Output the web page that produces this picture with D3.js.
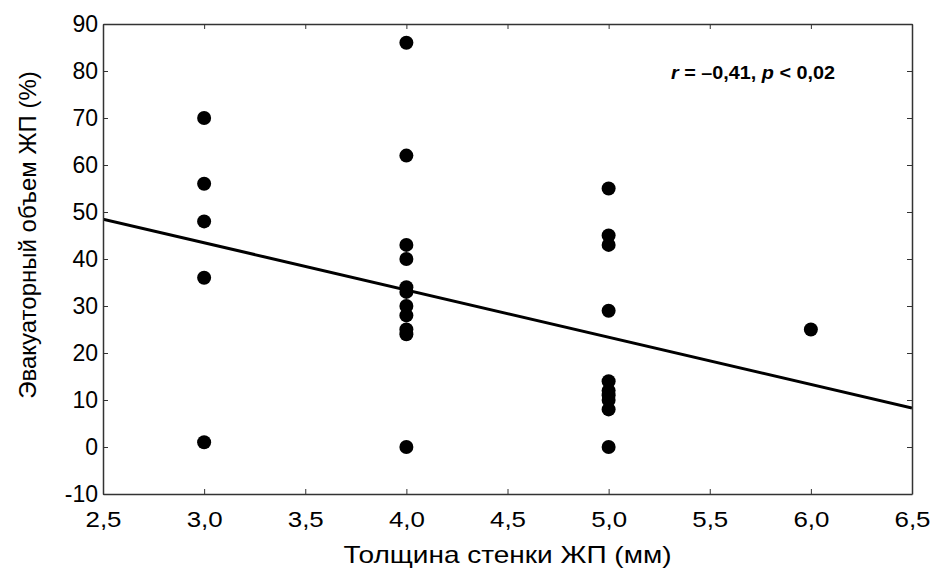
<!DOCTYPE html>
<html>
<head>
<meta charset="utf-8">
<script src="https://cdn.jsdelivr.net/npm/d3@7"></script>
<style>
  body { margin: 0; background: #fff; }
  svg text { font-family: "Liberation Sans", Arial, sans-serif; fill: #000; }
</style>
</head>
<body>
<div id="chart"></div>
<script>
// wall thickness (mm) and evacuated volume (%) per patient
var thickness = [3,3,3,3,3, 4,4,4,4,4,4,4,4,4,4,4, 5,5,5,5,5,5,5,5,5,5, 6];
var volume    = [70,56,48,36,1, 86,62,43,40,34,33,30,28,25,24,0, 55,45,43,29,14,12,11,10,8,0, 25];

var xTicks = [2.5,3,3.5,4,4.5,5,5.5,6,6.5];
var yTicks = [-10,0,10,20,30,40,50,60,70,80,90];

// regression line y = a + b*x
var fitA = 73.6, fitB = -10.05;

var width = 930, height = 573;
var margin = {top: 24, right: 18, bottom: 79, left: 103};

var svg = d3.select("#chart").append("svg")
    .attr("width", width)
    .attr("height", height);

var x = d3.scaleLinear().domain([2.5, 6.5]).range([margin.left, width - margin.right]);
var y = d3.scaleLinear().domain([-10, 90]).range([height - margin.bottom, margin.top]);

var fmtX = function(d){ return d3.format(".1f")(d).replace(".", ","); };
var fmtY = function(d){ return String(d); };   // plain hyphen for -10

svg.append("clipPath").attr("id", "plot")
  .append("rect")
    .attr("x", x(2.5)).attr("y", y(90))
    .attr("width", x(6.5) - x(2.5)).attr("height", y(-10) - y(90));

// regression line
svg.append("line")
    .attr("clip-path", "url(#plot)")
    .attr("x1", x(2.5)).attr("y1", y(fitA + fitB * 2.5))
    .attr("x2", x(6.5)).attr("y2", y(fitA + fitB * 6.5))
    .attr("stroke", "#000")
    .attr("stroke-width", 3);

// dots
svg.append("g")
  .selectAll("circle")
  .data(thickness)
  .enter()
  .append("circle")
    .attr("cx", function(d){ return x(d); })
    .attr("cy", function(d, i){ return y(volume[i]); })
    .attr("rx", 7)
    .attr("r", 7)
    .attr("fill", "#000");

// axes, ticks inside on all four sides
var tickLen = 5;
var axisStyle = function(g){
    g.select(".domain").attr("stroke", "#333").attr("stroke-width", 1.5);
    g.selectAll(".tick line").attr("stroke", "#333");
};

var xAxis = svg.append("g")
    .attr("transform", "translate(0," + y(-10) + ")")
    .call(d3.axisBottom(x).tickValues(xTicks).tickFormat(fmtX).tickSizeInner(-tickLen).tickSizeOuter(0).tickPadding(17))
    .call(axisStyle);
xAxis.selectAll("text")
    .attr("font-size", 22)
    .attr("font-family", "Liberation Sans")
    .attr("textLength", 36)
    .attr("lengthAdjust", "spacingAndGlyphs")
    .attr("text-anchor", "start")
    .attr("x", -18);

svg.append("g")
    .attr("transform", "translate(0," + y(90) + ")")
    .call(d3.axisTop(x).tickValues(xTicks).tickFormat("").tickSizeInner(-tickLen).tickSizeOuter(0))
    .call(axisStyle);

svg.append("g")
    .attr("transform", "translate(" + x(2.5) + ",0)")
    .call(d3.axisLeft(y).tickValues(yTicks).tickFormat(fmtY).tickSizeInner(-tickLen).tickSizeOuter(0).tickPadding(5))
    .call(axisStyle)
    .selectAll("text").attr("font-size", 23).attr("font-family", "Liberation Sans");

svg.append("g")
    .attr("transform", "translate(" + x(6.5) + ",0)")
    .call(d3.axisRight(y).tickValues(yTicks).tickFormat("").tickSizeInner(-tickLen).tickSizeOuter(0))
    .call(axisStyle);

// axis titles
svg.append("text")
    .attr("x", (x(2.5) + x(6.5)) / 2 - 164)
    .attr("y", 563)
    .attr("font-size", 24)
    .attr("textLength", 328)
    .attr("lengthAdjust", "spacingAndGlyphs")
    .text("Толщина стенки ЖП (мм)");

svg.append("text")
    .attr("transform", "translate(36,235) rotate(-90)")
    .attr("text-anchor", "middle")
    .attr("font-size", 24)
    .text("Эвакуаторный объем ЖП (%)");

// correlation note
var note = svg.append("text")
    .attr("x", 671)
    .attr("y", 79)
    .attr("font-size", 18)
    .attr("font-weight", "bold")
    .attr("textLength", 164)
    .attr("lengthAdjust", "spacingAndGlyphs");
note.append("tspan").attr("font-style", "italic").text("r");
note.append("tspan").text(" = \u20130,41, ");
note.append("tspan").attr("font-style", "italic").text("p");
note.append("tspan").text(" < 0,02");
</script>
</body>
</html>
